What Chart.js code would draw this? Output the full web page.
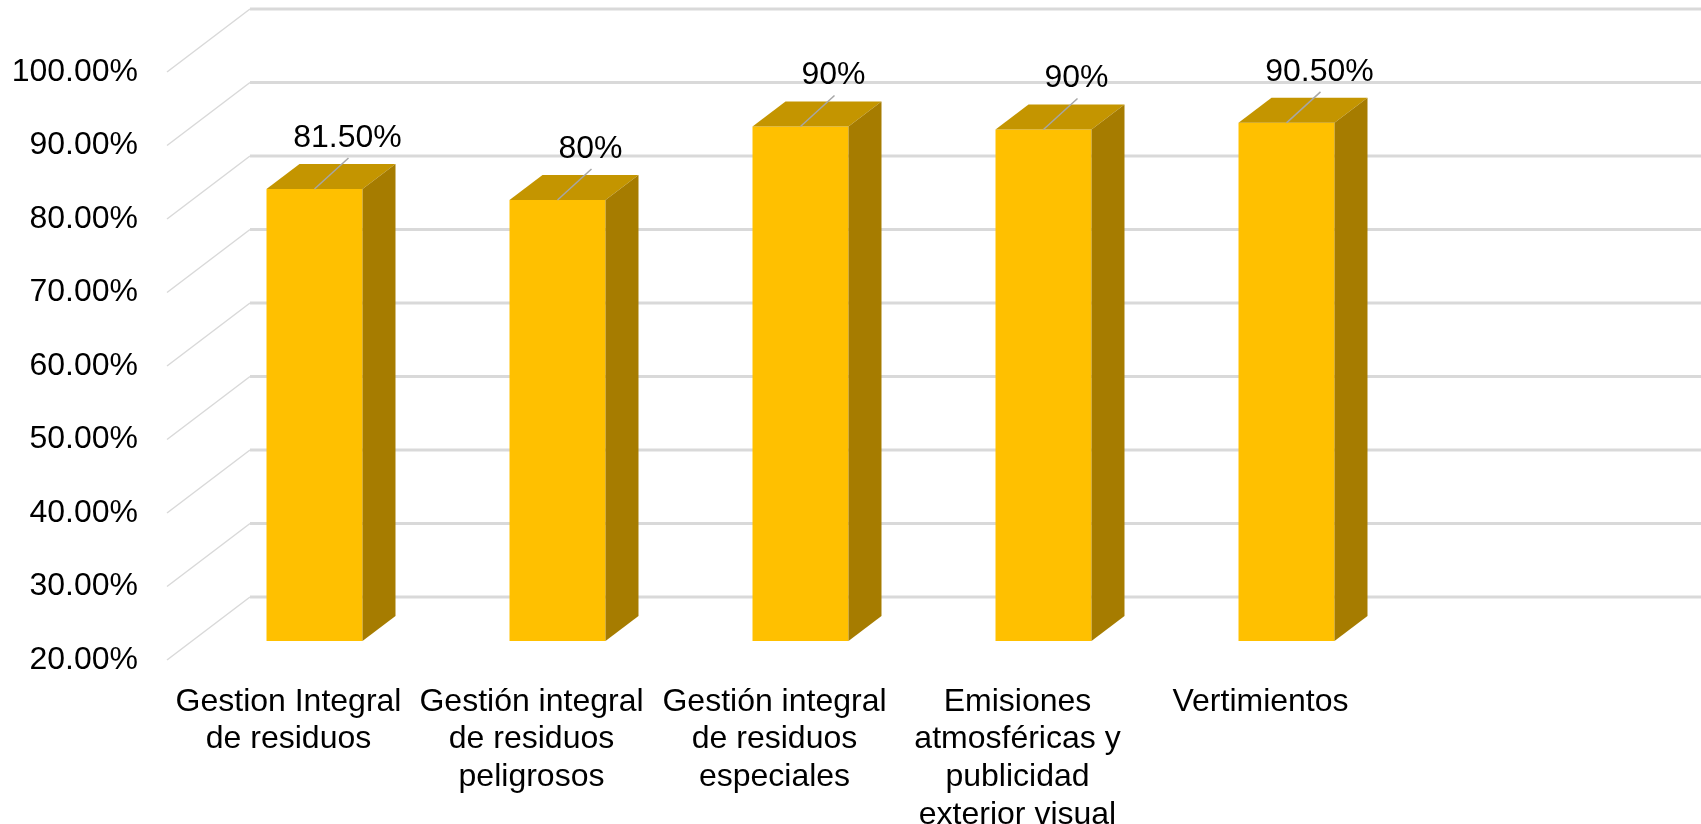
<!DOCTYPE html>
<html>
<head>
<meta charset="utf-8">
<script src="https://cdn.jsdelivr.net/npm/chart.js@4.4.1/dist/chart.umd.min.js"></script>
<style>
  html, body { margin: 0; padding: 0; background: #fff; }
  #wrap { width: 1701px; height: 824px; }
</style>
</head>
<body>
<div id="wrap"><canvas id="chart" width="1701" height="824"></canvas></div>
<script>
const categories = [
  ['Gestion Integral', 'de residuos'],
  ['Gestión integral', 'de residuos', 'peligrosos'],
  ['Gestión integral', 'de residuos', 'especiales'],
  ['Emisiones', 'atmosféricas y', 'publicidad', 'exterior visual'],
  ['Vertimientos'],
  ['']
];
const values = [0.815, 0.80, 0.90, 0.896, 0.905, null];
const valueLabels = ['81.50%', '80%', '90%', '90%', '90.50%', ''];
const yTicks = [0.2, 0.3, 0.4, 0.5, 0.6, 0.7, 0.8, 0.9, 1.0];

// 3d look: shift of bar front face, bar depth, back wall shift
const front = { x: 26, y: -19 };
const depth = { x: 33, y: -25 };
const wall = { x: 83, y: -63 };

const FONT = "'Liberation Sans', Arial, sans-serif";

const fake3d = {
  id: 'fake3d',
  beforeDatasetsDraw(chart) {
    const { ctx, chartArea, scales: { y } } = chart;
    ctx.save();
    ctx.strokeStyle = '#d9d9d9';
    yTicks.forEach((v) => {
      const py = y.getPixelForValue(v);
      ctx.lineWidth = 1.5;
      ctx.beginPath();
      ctx.moveTo(chartArea.left, py);
      ctx.lineTo(chartArea.left + wall.x, py + wall.y);
      ctx.stroke();
      ctx.lineWidth = 3;
      ctx.beginPath();
      ctx.moveTo(chartArea.left + wall.x, py + wall.y);
      ctx.lineTo(chart.width, py + wall.y);
      ctx.stroke();
    });
    ctx.restore();
    // bars front faces get drawn shifted
    ctx.save();
    ctx.translate(front.x, front.y);
  },
  afterDatasetsDraw(chart) {
    const { ctx } = chart;
    ctx.restore();
    const meta = chart.getDatasetMeta(0);
    meta.data.forEach((bar, i) => {
      if (values[i] == null) return;
      const p = bar.getProps(['x', 'y', 'base', 'width'], true);
      const left = p.x - p.width / 2 + front.x;
      const right = p.x + p.width / 2 + front.x;
      const top = p.y + front.y;
      const bottom = p.base + front.y;

      // top face
      ctx.fillStyle = '#c49500';
      ctx.beginPath();
      ctx.moveTo(left, top);
      ctx.lineTo(left + depth.x, top + depth.y);
      ctx.lineTo(right + depth.x, top + depth.y);
      ctx.lineTo(right, top);
      ctx.closePath();
      ctx.fill();

      // side face
      ctx.fillStyle = '#a67c00';
      ctx.beginPath();
      ctx.moveTo(right, top);
      ctx.lineTo(right + depth.x, top + depth.y);
      ctx.lineTo(right + depth.x, bottom + depth.y);
      ctx.lineTo(right, bottom);
      ctx.closePath();
      ctx.fill();

      // leader line + value label
      const cx = p.x + front.x;
      ctx.strokeStyle = '#a6a6a6';
      ctx.lineWidth = 1.5;
      ctx.beginPath();
      ctx.moveTo(cx, top);
      ctx.lineTo(cx + 34, top - 31);
      ctx.stroke();

      ctx.fillStyle = '#000';
      ctx.font = '32px ' + FONT;
      ctx.textAlign = 'center';
      ctx.textBaseline = 'middle';
      ctx.fillText(valueLabels[i], cx + 33, top - 51);
    });
  }
};

new Chart(document.getElementById('chart'), {
  type: 'bar',
  data: {
    labels: categories,
    datasets: [{
      data: values,
      base: 0.2,
      backgroundColor: '#ffc000',
      borderWidth: 0,
      categoryPercentage: 1,
      barPercentage: 0.395,
      clip: false
    }]
  },
  options: {
    responsive: false,
    animation: false,
    devicePixelRatio: 1,
    layout: { padding: { top: 72, right: 76, left: 0, bottom: 0 } },
    plugins: {
      legend: { display: false },
      tooltip: { enabled: false }
    },
    scales: {
      x: {
        grid: { display: false, drawTicks: false },
        border: { display: false },
        afterFit: (s) => { s.height = 164; },
        ticks: {
          autoSkip: false,
          maxRotation: 0,
          minRotation: 0,
          padding: 23,
          color: '#000',
          font: { family: FONT, size: 32, lineHeight: 1.18 }
        }
      },
      y: {
        min: 0.2,
        max: 1.0,
        grid: { display: false, drawTicks: false },
        border: { display: false },
        afterFit: (s) => { s.width = 167; },
        afterBuildTicks: (s) => { s.ticks = yTicks.map((v) => ({ value: v })); },
        ticks: {
          padding: 29,
          color: '#000',
          font: { family: FONT, size: 32 },
          callback: (v) => (v * 100).toFixed(2) + '%'
        }
      }
    }
  },
  plugins: [fake3d]
});
</script>
</body>
</html>
